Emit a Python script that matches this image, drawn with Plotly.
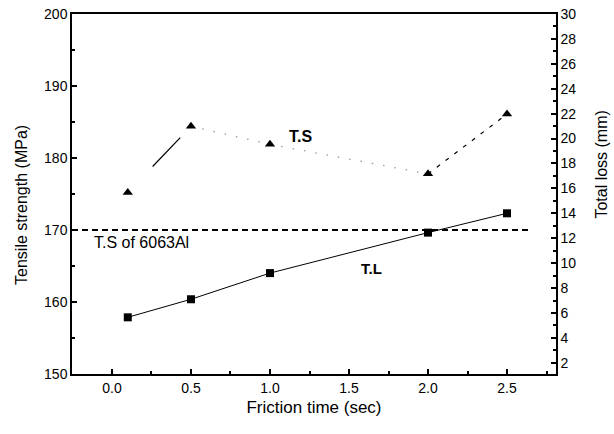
import plotly.graph_objects as go

friction_time = [0.1, 0.5, 1.0, 2.0, 2.5]
tensile_strength = [175.2, 184.4, 181.9, 177.8, 186.1]
total_loss = [5.65, 7.1, 9.2, 12.45, 14.0]
ts_6063al = 170

FONT = "Liberation Sans, Arial, sans-serif"

fig = go.Figure()

# T.S connecting segments, each with its own line style
seg_styles = [
    dict(color="black", width=1.2, dash="0px,36px,40px,200px"),
    dict(color="#9a9a9a", width=1.3, dash="1.5px,10px"),
    dict(color="#9a9a9a", width=1.3, dash="1.5px,10px"),
    dict(color="black", width=1.2, dash="4px,7px"),
]
for i, st in enumerate(seg_styles):
    fig.add_trace(go.Scatter(
        x=friction_time[i:i + 2], y=tensile_strength[i:i + 2],
        mode="lines", line=st, showlegend=False, hoverinfo="skip"))

fig.add_trace(go.Scatter(
    x=friction_time, y=tensile_strength, mode="markers",
    marker=dict(symbol="triangle-up", size=9, color="black"),
    name="T.S", showlegend=False))

fig.add_trace(go.Scatter(
    x=friction_time, y=total_loss, mode="lines+markers", yaxis="y2",
    line=dict(color="black", width=1),
    marker=dict(symbol="square", size=8, color="black"),
    name="T.L", showlegend=False))

fig.add_shape(type="line", xref="paper", yref="y", x0=0, x1=0.95,
              y0=ts_6063al, y1=ts_6063al,
              line=dict(color="black", width=2, dash="6px,4px"))

fig.add_annotation(x=-0.128, y=168.2, text="T.S of 6063Al", showarrow=False,
                   xanchor="left", yanchor="middle",
                   font=dict(family=FONT, size=16, color="black"))
fig.add_annotation(x=1.19, y=183.05, text="<b>T.S</b>", showarrow=False,
                   xanchor="center", yanchor="middle",
                   font=dict(family=FONT, size=16, color="black"))
fig.add_annotation(x=1.64, y=164.7, text="<b>T.L</b>", showarrow=False,
                   xanchor="center", yanchor="middle",
                   font=dict(family=FONT, size=15, color="black"))

# axis titles placed as annotations to match the reference positions
fig.add_annotation(xref="paper", yref="paper", x=-0.103, y=0.47,
                   text="Tensile strength (MPa)", textangle=-90,
                   showarrow=False, xanchor="center", yanchor="middle",
                   font=dict(family=FONT, size=16, color="black"))
fig.add_annotation(xref="paper", yref="paper", x=1.094, y=0.583,
                   text="Total loss (mm)", textangle=-90,
                   showarrow=False, xanchor="center", yanchor="middle",
                   font=dict(family=FONT, size=16, color="black"))

axis_common = dict(
    showgrid=False, zeroline=False, showline=True, linecolor="black",
    linewidth=1.5, ticks="inside", tickcolor="black", tickwidth=1.5,
    ticklen=5, tickfont=dict(family=FONT, size=14, color="black"),
    automargin=False,
)

fig.update_layout(
    width=614, height=434,
    margin=dict(l=72, r=58, t=14, b=60),
    paper_bgcolor="white", plot_bgcolor="white",
    font=dict(family=FONT, color="black"),
    xaxis=dict(
        range=[-0.253, 2.81], tick0=0, dtick=0.5, tickformat=".1f",
        mirror=True,
        minor=dict(ticks="inside", dtick=0.25, ticklen=3, tickcolor="black"),
        title=dict(text="Friction time (sec)", font=dict(family=FONT, size=17),
                   standoff=7),
        **axis_common),
    yaxis=dict(
        range=[150, 200], tick0=150, dtick=10,
        minor=dict(ticks="inside", dtick=5, ticklen=3, tickcolor="black"),
        **axis_common),
    yaxis2=dict(
        range=[1.1, 30], tick0=2, dtick=2, overlaying="y", side="right",
        minor=dict(ticks="inside", dtick=1, ticklen=3, tickcolor="black"),
        **axis_common),
)

fig.write_html("out.html",
               config={"displayModeBar": False},
               post_script="document.body.style.margin='0';")
